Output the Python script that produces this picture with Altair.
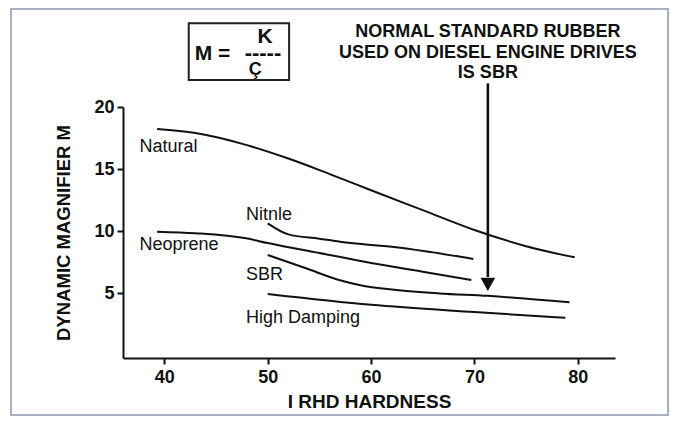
import altair as alt
import pandas as pd

# ---- data ----
natural_x = [39.3, 43.0, 47.9, 52.0, 56.0, 60.0, 65.0, 70.0, 75.0, 79.7]
natural_y = [18.23, 17.9, 16.95, 15.85, 14.6, 13.3, 11.7, 10.1, 8.8, 7.9]
nitrile_x = [50.0, 52.0, 55.0, 57.0, 60.0, 62.0, 66.0, 69.9]
nitrile_y = [10.64, 9.75, 9.4, 9.16, 8.9, 8.76, 8.3, 7.77]
neoprene_x = [39.3, 43.0, 47.9, 50.0, 55.0, 60.0, 65.0, 69.7]
neoprene_y = [9.97, 9.84, 9.43, 9.05, 8.25, 7.45, 6.75, 6.08]
sbr_x = [50.0, 53.7, 56.9, 59.2, 61.8, 66.6, 71.3, 79.2]
sbr_y = [8.09, 7.02, 6.08, 5.62, 5.33, 5.0, 4.8, 4.28]
hd_x = [50.0, 60.0, 70.0, 78.8]
hd_y = [4.95, 4.08, 3.5, 3.04]

series_names = ["Natural", "Nitnle", "Neoprene", "SBR", "High Damping"]
label_x = [37.6, 47.9, 37.6, 47.9, 47.9]
label_y = [16.4, 10.9, 8.49, 6.08, 2.62]

note_lines = ["NORMAL STANDARD RUBBER", "USED ON DIESEL ENGINE DRIVES", "IS SBR"]
note_y = [25.66, 23.92, 22.31]
note_x = 71.3
arrow_x = [71.3]
arrow_top = [21.9]
arrow_head = [5.72]

x_ticks = [40, 50, 60, 70, 80]
y_ticks = [5, 10, 15, 20]

FONT = "Liberation Sans"

rows = []
for name, xs_, ys_ in [("Natural", natural_x, natural_y), ("Nitnle", nitrile_x, nitrile_y),
                       ("Neoprene", neoprene_x, neoprene_y), ("SBR", sbr_x, sbr_y),
                       ("High Damping", hd_x, hd_y)]:
    for i, (a, b) in enumerate(zip(xs_, ys_)):
        rows.append({"series": name, "x": a, "y": b, "order": i})
df = pd.DataFrame(rows)

xs = alt.Scale(domain=[36, 83.6], nice=False, zero=False)
ys = alt.Scale(domain=[-0.2, 20], nice=False, zero=False)

X = alt.X("x:Q", scale=xs, axis=alt.Axis(values=x_ticks, title="I RHD HARDNESS",
                                         titlePadding=6, titleFontSize=19))
Y = alt.Y("y:Q", scale=ys, axis=alt.Axis(values=y_ticks, title="DYNAMIC MAGNIFIER M",
                                         titlePadding=20, titleFontSize=18.5))

lines = alt.Chart(df).mark_line(color="#111111", strokeWidth=2, interpolate="monotone").encode(
    x=X, y=Y, detail="series:N", order="order:Q")

lab_df = pd.DataFrame({"x": label_x, "y": label_y, "t": series_names})
labels = alt.Chart(lab_df).mark_text(align="left", baseline="alphabetic", font=FONT,
                                     fontSize=18, color="#111111").encode(
    x=alt.X("x:Q", scale=xs), y=alt.Y("y:Q", scale=ys), text="t:N")

note_df = pd.DataFrame({"x": [note_x] * 3, "y": note_y, "t": note_lines})
notes = alt.Chart(note_df).mark_text(align="center", baseline="alphabetic", font=FONT,
                                     fontSize=18, fontWeight="bold", color="#111111").encode(
    x=alt.X("x:Q", scale=xs), y=alt.Y("y:Q", scale=ys), text="t:N")

arrow_df = pd.DataFrame({"x": arrow_x, "y": arrow_top, "y2": [a + 0.6 for a in arrow_head], "h": arrow_head})
arrow = alt.Chart(arrow_df).mark_rule(color="#111111", strokeWidth=2.6).encode(
    x=alt.X("x:Q", scale=xs), y=alt.Y("y:Q", scale=ys), y2="y2:Q")
head = alt.Chart(arrow_df).mark_point(shape="M-1,-0.9L1,-0.9L0,0.9Z", size=216, filled=True,
                                      color="#111111", opacity=1, strokeWidth=0).encode(
    x=alt.X("x:Q", scale=xs), y=alt.Y("h:Q", scale=ys))

# formula box
box_df = pd.DataFrame({"x": [42.36], "x2": [52.07], "y": [26.74], "y2": [22.17]})
box = alt.Chart(box_df).mark_rect(fill="white", stroke="#222222", strokeWidth=2).encode(
    x=alt.X("x:Q", scale=xs), x2="x2:Q", y=alt.Y("y:Q", scale=ys), y2="y2:Q")
f_df = pd.DataFrame({
    "x": [42.94, 49.74, 49.54, 48.8],
    "y": [23.78, 25.17, 24.35, 22.58],
    "t": ["M =", "K", "-----", "Ç"],
    "s": [21, 21, 22, 18],
    "a": ["left", "center", "center", "center"],
    "b": ["alphabetic", "alphabetic", "middle", "alphabetic"],
})
formula = alt.layer(*[
    alt.Chart(f_df.iloc[[i]]).mark_text(align=f_df.a[i], baseline=f_df.b[i], font=FONT,
                                         fontSize=int(f_df.s[i]), fontWeight="bold",
                                         color="#111111").encode(
        x=alt.X("x:Q", scale=xs), y=alt.Y("y:Q", scale=ys), text="t:N")
    for i in range(len(f_df))
])

frame = alt.Chart(pd.DataFrame({"k": [0]})).mark_rect(fill=None, stroke="#a9b1c1", strokeWidth=2).encode(
    x=alt.value(-112), x2=alt.value(545), y=alt.value(-98), y2=alt.value(308))

chart = alt.layer(frame, lines, labels, arrow, head, notes, box, formula).properties(
    width=492, height=251,
    autosize=alt.AutoSizeParams(type="none"),
    padding={"left": 115, "top": 99, "right": 54, "bottom": 58},
    background="white",
).configure_view(stroke=None).configure_axis(
    grid=False, domainColor="#111111", domainWidth=2, tickColor="#111111", tickWidth=2,
    tickSize=6, labelFont=FONT, labelFontSize=18, labelFontWeight="bold", labelColor="#111111",
    labelPadding=4, titleFont=FONT, titleFontWeight="bold", titleColor="#111111",
).configure_axisY(labelPadding=3)

chart.save("out.html", embed_options={"renderer": "svg", "actions": False})
